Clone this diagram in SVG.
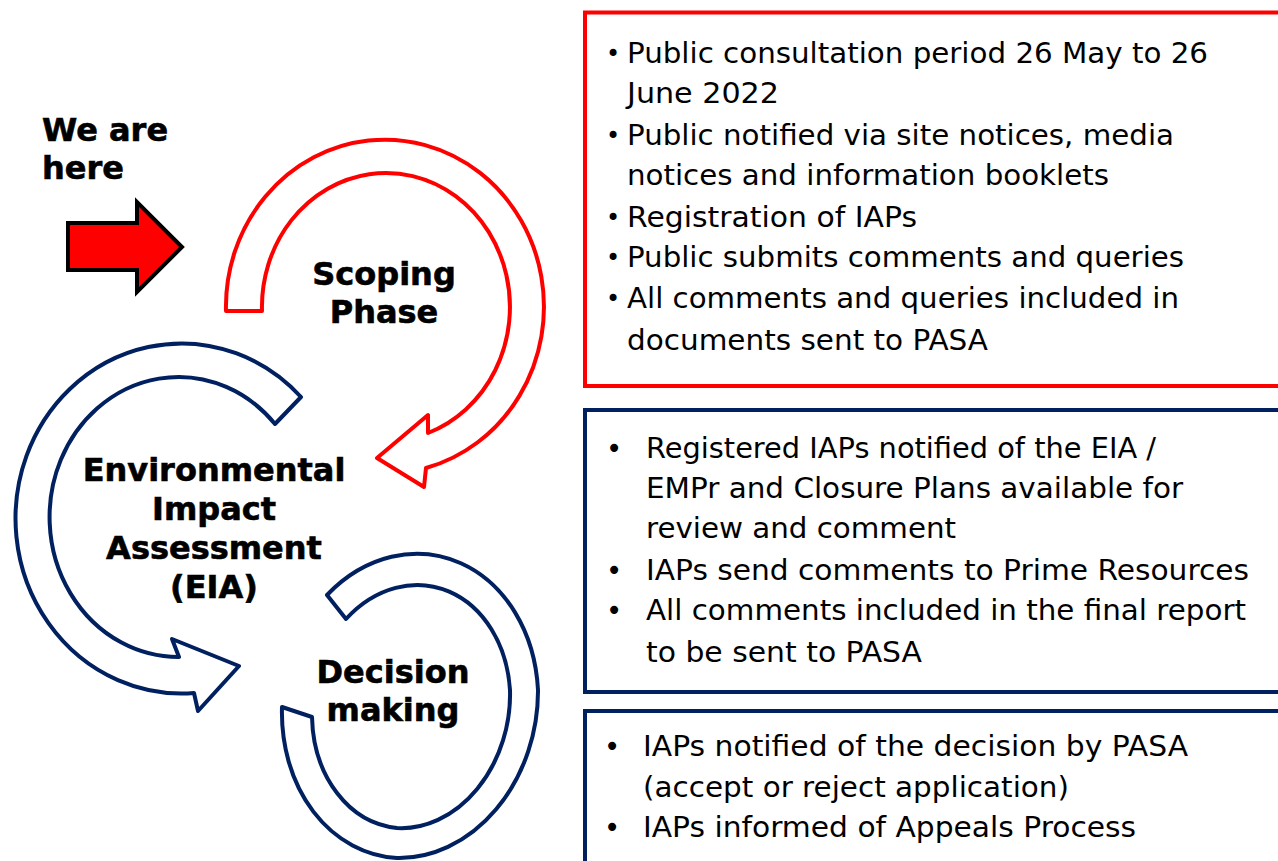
<svg xmlns="http://www.w3.org/2000/svg" width="1278" height="861" viewBox="0 0 1278 861">
<style>
.bold{font-family:"DejaVu Sans","Verdana",sans-serif;font-weight:bold;font-size:32px;fill:#000;stroke:#000;stroke-width:0.6}
.body{font-family:"DejaVu Sans","Verdana",sans-serif;font-size:27.5px;fill:#000}
.dot{font-family:"DejaVu Sans","Verdana",sans-serif;font-size:24px;fill:#000}
.red{fill:#fff;stroke:#ff0000;stroke-width:4;stroke-linejoin:round}
.blue{fill:#fff;stroke:#002060;stroke-width:4;stroke-linejoin:round}
</style>
<rect width="1278" height="861" fill="#fff"/>

<g id="we-are-here">
<text class="bold" x="42" y="141">We are</text>
<text class="bold" x="42" y="179">here</text>
<path d="M68,223 L137,223 L137,202 L182,247 L137,292 L137,270 L68,270 Z" fill="#ff0000" stroke="#000" stroke-width="4" stroke-linejoin="miter"/>
</g>

<g id="connectors">
<path id="scoping-arrow" class="red" d="M226,311 A159,167 0 1 1 426,468 L424,487 L377,458 L428,415 L428,433 A124,134 0 1 0 262,311 Z"/>
<path id="eia-arrow" class="blue" d="M301,397 A166,175 0 1 0 194,693 L198,711 L239,666 L172,639 L179,657 A129,140 0 1 1 275,424 Z"/>
<path id="decision-arrow" class="blue" d="M327,595 A129,157 10 0 1 538,690 A129,157 10 0 1 397,858 A129,157 10 0 1 282,707 L312,717 A100,125 10 0 0 397,828 A100,125 10 0 0 510,690 A100,125 10 0 0 346,619 Z"/>
</g>

<g id="scoping">
<text class="bold" text-anchor="middle" x="384" y="285">Scoping</text>
<text class="bold" text-anchor="middle" x="384" y="323">Phase</text>
</g>

<g id="eia">
<text class="bold" text-anchor="middle" x="214" y="481">Environmental</text>
<text class="bold" text-anchor="middle" x="214" y="520">Impact</text>
<text class="bold" text-anchor="middle" x="214" y="559">Assessment</text>
<text class="bold" text-anchor="middle" x="214" y="598">(EIA)</text>
</g>

<g id="decision">
<text class="bold" text-anchor="middle" x="393" y="683">Decision</text>
<text class="bold" text-anchor="middle" x="393" y="721">making</text>
</g>

<g id="box-scoping">
<rect x="585" y="12.5" width="800" height="373.5" fill="#fff" stroke="#ff0000" stroke-width="4"/>
<text class="dot" x="606" y="62">•</text>
<text class="body" x="627" y="63" textLength="581" lengthAdjust="spacingAndGlyphs">Public consultation period 26 May to 26</text>
<text class="body" x="627" y="103" textLength="152" lengthAdjust="spacingAndGlyphs">June 2022</text>
<text class="dot" x="606" y="144">•</text>
<text class="body" x="627" y="145" textLength="547" lengthAdjust="spacingAndGlyphs">Public notified via site notices, media</text>
<text class="body" x="627" y="185" textLength="482" lengthAdjust="spacingAndGlyphs">notices and information booklets</text>
<text class="dot" x="606" y="226">•</text>
<text class="body" x="627" y="227" textLength="290" lengthAdjust="spacingAndGlyphs">Registration of IAPs</text>
<text class="dot" x="606" y="266">•</text>
<text class="body" x="627" y="267" textLength="557" lengthAdjust="spacingAndGlyphs">Public submits comments and queries</text>
<text class="dot" x="606" y="307">•</text>
<text class="body" x="627" y="308" textLength="552" lengthAdjust="spacingAndGlyphs">All comments and queries included in</text>
<text class="body" x="627" y="350" textLength="361" lengthAdjust="spacingAndGlyphs">documents sent to PASA</text>
</g>

<g id="box-eia">
<rect x="585" y="410" width="800" height="282" fill="#fff" stroke="#002060" stroke-width="4"/>
<text class="body" x="606" y="458">•</text>
<text class="body" x="646" y="458" textLength="510" lengthAdjust="spacingAndGlyphs">Registered IAPs notified of the EIA /</text>
<text class="body" x="646" y="498" textLength="537" lengthAdjust="spacingAndGlyphs">EMPr and Closure Plans available for</text>
<text class="body" x="646" y="538" textLength="310" lengthAdjust="spacingAndGlyphs">review and comment</text>
<text class="body" x="606" y="580">•</text>
<text class="body" x="646" y="580" textLength="603" lengthAdjust="spacingAndGlyphs">IAPs send comments to Prime Resources</text>
<text class="body" x="606" y="620">•</text>
<text class="body" x="646" y="620" textLength="600" lengthAdjust="spacingAndGlyphs">All comments included in the final report</text>
<text class="body" x="646" y="662" textLength="276" lengthAdjust="spacingAndGlyphs">to be sent to PASA</text>
</g>

<g id="box-decision">
<rect x="585" y="711" width="800" height="300" fill="#fff" stroke="#002060" stroke-width="4"/>
<text class="body" x="604" y="756">•</text>
<text class="body" x="643" y="756" textLength="545" lengthAdjust="spacingAndGlyphs">IAPs notified of the decision by PASA</text>
<text class="body" x="643" y="797" textLength="426" lengthAdjust="spacingAndGlyphs">(accept or reject application)</text>
<text class="body" x="604" y="837">•</text>
<text class="body" x="643" y="837" textLength="493" lengthAdjust="spacingAndGlyphs">IAPs informed of Appeals Process</text>
</g>
</svg>
